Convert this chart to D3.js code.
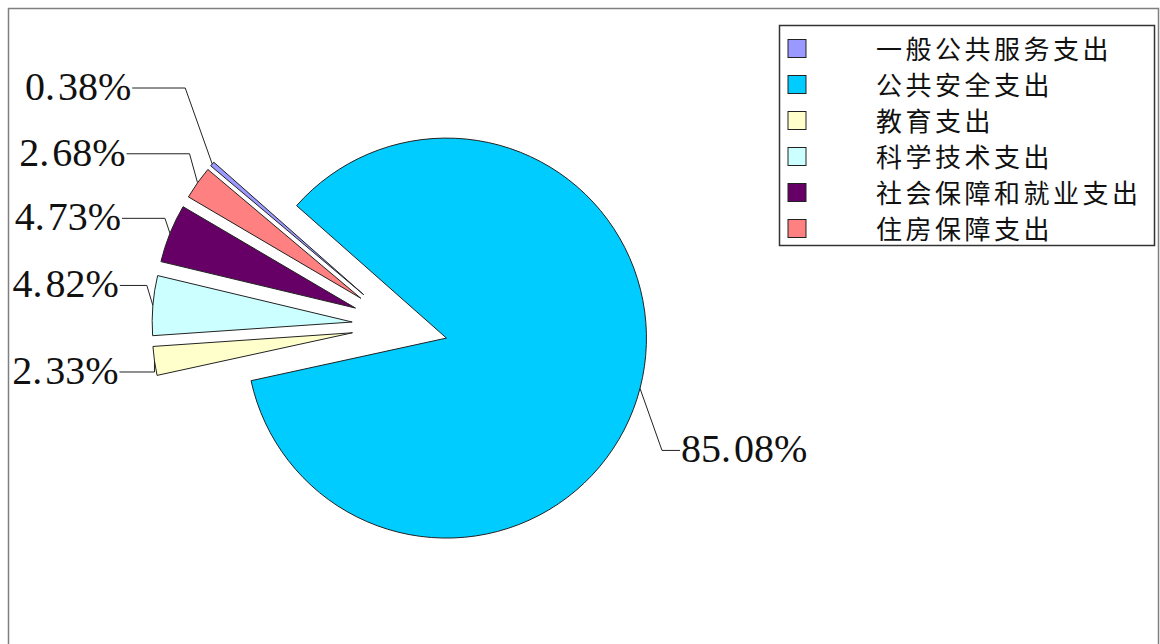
<!DOCTYPE html>
<html>
<head>
<meta charset="utf-8">
<script src="https://cdn.jsdelivr.net/npm/d3@7/dist/d3.min.js"></script>
<style>
  html, body { margin: 0; padding: 0; background: #fff; }
  svg { display: block; }
</style>
</head>
<body>
<svg id="chart" width="1160" height="644"></svg>
<script>
// Expenditure categories and their shares (%)
const categories = ["一般公共服务支出", "公共安全支出", "教育支出", "科学技术支出", "社会保障和就业支出", "住房保障支出"];
const shares = [0.38, 85.08, 2.33, 4.82, 4.73, 2.68];
const colors = ["#9999FF", "#00CCFF", "#FFFFCC", "#CCFFFF", "#660066", "#FF8080"];

// Leader-line layout for each data label: elbow offset from the slice's outer midpoint, and horizontal run
const labelLayout = [
  { elbow: [-27, -76], run: 53 },
  { elbow: [22, 62], run: 18 },
  { elbow: [0, 11], run: 35 },
  { elbow: [-6, -20], run: 27 },
  { elbow: [-5, -15], run: 43 },
  { elbow: [-8, -29], run: 63 }
];

const svg = d3.select("#chart");
const W = 1160, H = 644;

// Chart frame
svg.append("path")
  .attr("d", `M8.5,${H} V8.5 H1158.5 V${H}`)
  .attr("fill", "none")
  .attr("stroke", "#7f7f7f")
  .attr("stroke-width", 1.5);

const cx = 400, cy = 326, radius = 200, explode = 48;
const deg = Math.PI / 180;
const start = 310.1 * deg;

const data = categories.map((c, i) => ({ name: c, value: shares[i], color: colors[i], layout: labelLayout[i] }));

const pie = d3.pie().sort(null).value(d => d.value)
  .startAngle(start).endAngle(start + 2 * Math.PI);
const arc = d3.arc().innerRadius(0).outerRadius(radius);
const arcs = pie(data);

const g = svg.append("g").attr("transform", `translate(${cx},${cy})`);

const dir = a => [Math.sin(a), -Math.cos(a)];

// Exploded slices
g.selectAll("path.slice")
  .data(arcs)
  .join("path")
  .attr("class", "slice")
  .attr("d", arc)
  .attr("transform", d => {
    const m = (d.startAngle + d.endAngle) / 2;
    const [ux, uy] = dir(m);
    return `translate(${ux * explode},${uy * explode})`;
  })
  .attr("fill", d => d.data.color)
  .attr("stroke", "#222")
  .attr("stroke-width", 1)
  .attr("stroke-linejoin", "round");

// Data labels with leader lines
const fmt = d3.format(".2f");
arcs.forEach(d => {
  const m = (d.startAngle + d.endAngle) / 2;
  const [ux, uy] = dir(m);
  const ox = ux * (explode + radius), oy = uy * (explode + radius);
  const ex = ox + d.data.layout.elbow[0], ey = oy + d.data.layout.elbow[1];
  const right = ux > 0;
  const lx = right ? ex + d.data.layout.run : ex - d.data.layout.run;

  g.append("path")
    .attr("d", `M${ox},${oy} L${ex},${ey} L${lx},${ey}`)
    .attr("fill", "none")
    .attr("stroke", "#222")
    .attr("stroke-width", 1);

  const [whole, frac] = fmt(d.data.value).split(".");
  const t = g.append("text")
    .attr("x", right ? lx + 1 : lx - 1)
    .attr("y", ey + 12)
    .attr("text-anchor", right ? "start" : "end")
    .attr("font-family", "'Liberation Serif', 'DejaVu Serif', serif")
    .attr("font-size", 40)
    .attr("fill", "#111");
  t.append("tspan").text(whole + ".");
  t.append("tspan").attr("dx", 3).text(frac + "%");
});

// Legend
const lg = svg.append("g");
lg.append("rect")
  .attr("x", 779.5).attr("y", 25.5)
  .attr("width", 375).attr("height", 220)
  .attr("fill", "#fff")
  .attr("stroke", "#333")
  .attr("stroke-width", 1.5);

const rows = lg.selectAll("g.row")
  .data(data)
  .join("g")
  .attr("class", "row")
  .attr("transform", (d, i) => `translate(0,${48.5 + i * 36})`);

rows.append("rect")
  .attr("x", 788).attr("y", -9)
  .attr("width", 18).attr("height", 18)
  .attr("fill", d => d.color)
  .attr("stroke", "#222")
  .attr("stroke-width", 1);

rows.append("text")
  .attr("x", 876).attr("y", 10)
  .attr("font-family", "'Noto Sans CJK SC', sans-serif")
  .attr("font-size", 26)
  .attr("letter-spacing", 3.5)
  .attr("fill", "#111")
  .text(d => d.name);
</script>
</body>
</html>
